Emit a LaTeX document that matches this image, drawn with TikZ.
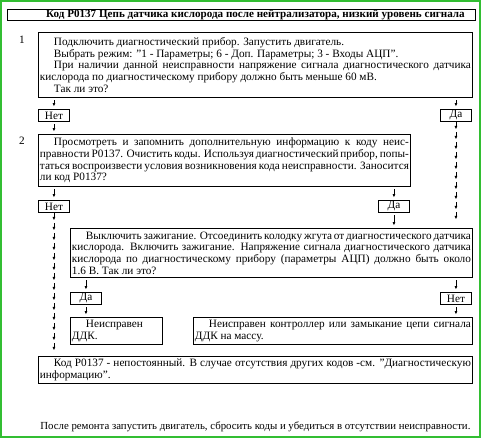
\documentclass[tikz,border=0pt]{standalone}
\usepackage{fontspec}
\setmainfont{Liberation Serif}
\usetikzlibrary{arrows.meta,decorations.markings}
\setlength{\parindent}{0pt}
\newcommand{\fs}{\fontsize{11.25pt}{11.7pt}\selectfont\spaceskip=0.25em plus 0.3em minus 0.1em\relax}
\newcommand{\ind}{\hspace*{14pt}}
\newcommand{\qq}{\symbol{34}}
\definecolor{greenframe}{RGB}{50,190,50}
\tikzset{
  box/.style={draw, line width=0.9pt, anchor=north west, inner xsep=1.5pt, inner ysep=1.5pt, align=justify, font=\fs},
  ans/.style={draw, line width=0.9pt, anchor=north west, minimum width=31pt, minimum height=12pt, inner sep=0pt, font=\fs},
  tip/.style={-{Latex[length=3.5pt,width=3pt]}, line width=0.7pt},
  short/.style={shorten <=2.5pt, shorten >=2.5pt},
  chain/.style={decoration={markings, mark=between positions 0 and -7pt step 10pt with {\draw[tip] (0.5pt,0) -- (7.5pt,0);}}, postaction={decorate}}
}
\begin{document}
\begin{tikzpicture}
\useasboundingbox (0,0) rectangle (482pt,-439pt);
\draw[greenframe, line width=2pt] (1pt,-1pt) rectangle (480pt,-436.5pt);
% title
\node[draw, line width=1pt, anchor=north west, minimum width=468pt, minimum height=11.5pt, inner sep=0pt, font=\fontsize{11.1pt}{12pt}\selectfont\bfseries] (title) at (7pt,-8.5pt) {\hspace*{28pt}Код P0137 Цепь датчика кислорода после нейтрализатора, низкий уровень сигнала};
% step numbers
\node[font=\fs] (n1) at (22pt,-40pt) {1};
\node[font=\fs] (n2) at (22pt,-141pt) {2};
% boxes
\node[box, text width=431pt, minimum height=65pt] (b1) at (38pt,-32pt) {\ind Подключить диагностический прибор. Запустить двигатель.\\
\ind Выбрать режим: \qq 1 - Параметры; 6 - Доп. Параметры; 3 - Входы АЦП\qq.\\
\ind При наличии данной неисправности напряжение сигнала диагностического датчика\linebreak кислорода по диагностическому прибору должно быть меньше 60 мВ.\\
\ind Так ли это?};
\node[box, text width=369pt, minimum height=52pt] (b2) at (38pt,-134pt) {\ind Просмотреть и запомнить дополнительную информацию к коду неис-\linebreak правности P0137. Очистить коды. Используя диагностический прибор, попы-\linebreak таться воспроизвести условия возникновения кода неисправности. Заносится\linebreak ли код P0137?};
\node[box, text width=399pt, minimum height=49pt] (b3) at (70pt,-228pt) {\ind Выключить зажигание. Отсоединить колодку жгута от диагностического датчика\linebreak кислорода. Включить зажигание. Напряжение сигнала диагностического датчика\linebreak кислорода по диагностическому прибору (параметры АЦП) должно быть около\linebreak 1.6 В. Так ли это?};
\node[box, text width=89pt, minimum height=27pt] (b4) at (70pt,-317pt) {\ind Неисправен\\ ДДК.};
\node[box, text width=276pt, minimum height=27pt] (b5) at (193pt,-317pt) {\ind Неисправен контроллер или замыкание цепи сигнала\linebreak ДДК на массу.};
\node[box, text width=431pt, minimum height=27pt] (b6) at (38pt,-356pt) {\ind Код P0137 - непостоянный. В случае отсутствия других кодов -см. \qq Диагностическую\linebreak информацию\qq.};
% answers
\node[ans] (net1) at (38pt,-109pt) {Нет};
\node[ans] (da1) at (440pt,-109pt) {Да};
\node[ans] (net2) at (38pt,-200pt) {Нет};
\node[ans] (da2) at (378pt,-200pt) {Да};
\node[ans] (da3) at (70pt,-292pt) {Да};
\node[ans] (net3) at (440pt,-292pt) {Нет};
% arrows
\draw[tip, short] (b1.south -| net1) -- (net1);
\draw[tip, short] (b1.south -| da1) -- (da1);
\draw[tip, short] (net1) -- (b2.north -| net1);
\path[chain] (da1.south) -- (b3.north -| da1.south);
\draw[tip, short] (b2.south -| net2) -- (net2);
\draw[tip, short] (b2.south -| da2) -- (da2);
\draw[tip, short] (da2) -- (b3.north -| da2);
\path[chain] (net2.south) -- (b6.north -| net2.south);
\draw[tip, short] (b3.south -| da3) -- (da3);
\draw[tip, short] (b3.south -| net3) -- (net3);
\draw[tip, short] (da3) -- (b4.north -| da3);
\draw[tip, short] (net3) -- (b5.north -| net3);
% footer
\node[font=\fontsize{10.8pt}{12pt}\selectfont, anchor=east] (note) at (474pt,-427pt) {После ремонта запустить двигатель, сбросить коды и убедиться в отсутствии неисправности.};
\end{tikzpicture}
\end{document}
